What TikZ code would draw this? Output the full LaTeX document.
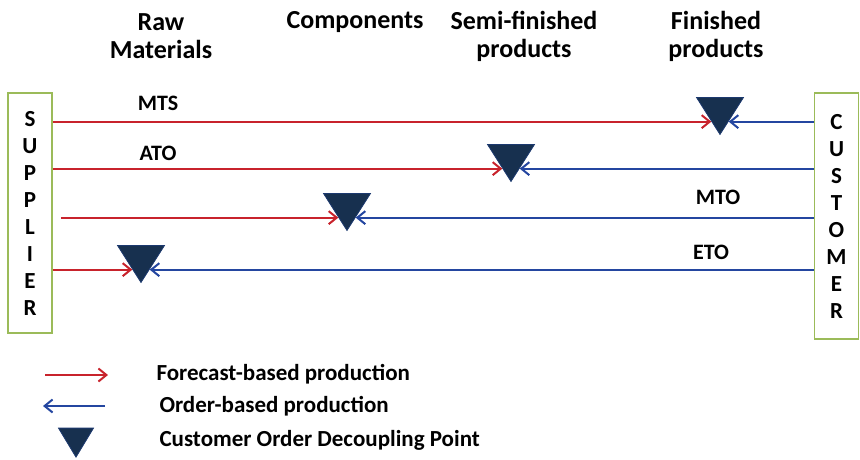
\documentclass[tikz,border=0pt]{standalone}
\usepackage{fontspec}
\setmainfont{Carlito}
\usetikzlibrary{arrows.meta, positioning, shapes.geometric, calc}
\definecolor{fcred}{HTML}{C8232C}
\definecolor{obblue}{HTML}{2446A0}
\definecolor{codpnavy}{HTML}{17304F}
\definecolor{boxgreen}{HTML}{9BBB59}
\tikzset{
  sidebox/.style={draw=boxgreen, line width=1.5pt, fill=white, rectangle, minimum width=44pt, inner sep=0pt, align=center, font=\bfseries\fontsize{23}{27}\selectfont},
  header/.style={align=center, font=\bfseries\fontsize{26}{28}\selectfont},
  rowlabel/.style={font=\bfseries\fontsize{22}{24}\selectfont},
  legtext/.style={anchor=west, font=\bfseries\fontsize{23}{24}\selectfont},
  codp/.style={isosceles triangle, isosceles triangle stretches, shape border rotate=270, fill=codpnavy, draw=codpnavy!60!obblue, line width=0.8pt, inner sep=0pt, minimum width=47pt, minimum height=37pt},
  fc/.style={draw=fcred, line width=2pt, -{Straight Barb[length=8pt,width=13pt]}},
  ob/.style={draw=obblue, line width=2pt, -{Straight Barb[length=8pt,width=13pt]}},
}

\begin{document}
\begin{tikzpicture}[x=1pt, y=-1pt]
  \useasboundingbox (0,0) rectangle (860,459);
  % supplier and customer
  \node[sidebox, minimum height=240pt] (sup) at (30,213) {S\\U\\P\\P\\L\\I\\E\\R};
  \node[sidebox, minimum height=246pt] (cus) at (836.5,216) {C\\U\\S\\T\\O\\M\\E\\R};
  % stages
  \node[header] (raw) at (161,36) {Raw\\Materials};
  \node[header] (comp) at (355,22) {Components};
  \node[header] (semi) at (524,36) {Semi-finished\\products};
  \node[header] (fin) at (716,36) {Finished\\products};
  % decoupling points
  \node[codp, anchor=apex] (tmts) at (720,135.5) {};
  \node[codp, anchor=apex] (tato) at (511,182.5) {};
  \node[codp, anchor=apex] (tmto) at (347,231.5) {};
  \node[codp, anchor=apex] (teto) at (141,283.5) {};
  \node[rowlabel] (lmts) at (158,103) {MTS};
  \node[rowlabel] (lato) at (158,153) {ATO};
  \node[rowlabel] (lmto) at (718,197) {MTO};
  \node[rowlabel] (leto) at (711,252) {ETO};
  % where each row meets the triangle sides
  \foreach \t in {mts,ato,mto,eto} {
    \coordinate (\t in) at ($(t\t.apex)!0.72!(t\t.right side)$);
    \coordinate (\t out) at ($(t\t.apex)!0.72!(t\t.left side)$);
  }
  % flows
  \draw[fc] (sup.east |- mtsin) -- (mtsin);
  \draw[ob] (cus.west |- mtsout) -- (mtsout);
  \draw[fc] (sup.east |- atoin) -- (atoin);
  \draw[ob] (cus.west |- atoout) -- (atoout);
  \draw[fc] ([xshift=8pt]sup.east |- mtoin) -- (mtoin);
  \draw[ob] (cus.west |- mtoout) -- (mtoout);
  \draw[fc] (sup.east |- etoin) -- (etoin);
  \draw[ob] (cus.west |- etoout) -- (etoout);
  % legend
  \coordinate (fca) at (45,375);
  \coordinate (fcb) at (108,375);
  \coordinate (oba) at (105,406);
  \coordinate (obb) at (43,406);
  \draw[fc] (fca) -- (fcb);
  \draw[ob] (oba) -- (obb);
  \node[codp, minimum width=35pt, minimum height=29pt] (tleg) at (76,438) {};
  \node[legtext] (kfc) at (153,374) {Forecast-based production};
  \node[legtext] (kob) at (156,406) {Order-based production};
  \node[legtext] (kcodp) at (156,440) {Customer Order Decoupling Point};
\end{tikzpicture}
\end{document}
